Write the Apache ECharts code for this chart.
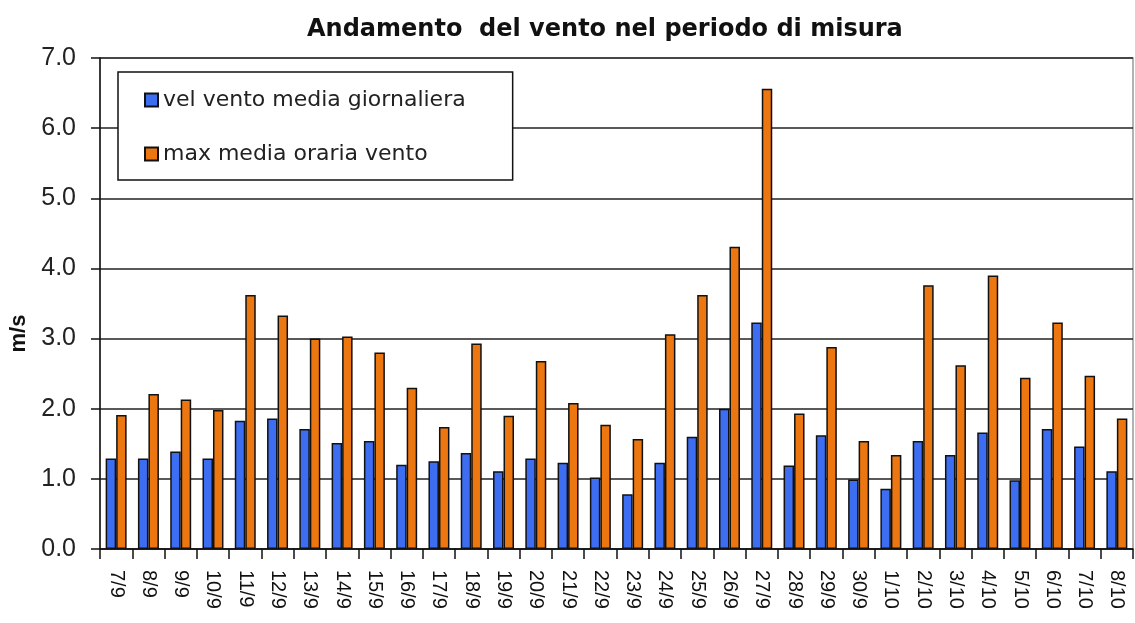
<!DOCTYPE html>
<html>
<head>
<meta charset="utf-8">
<script src="https://cdn.jsdelivr.net/npm/echarts@6/dist/echarts.min.js"></script>
<style>
  html, body { margin: 0; padding: 0; background: #fff; }
  #chart { width: 1135px; height: 623px; }
</style>
</head>
<body>
<div id="chart"></div>
<script>
// dati
const giorni = ['7/9', '8/9', '9/9', '10/9', '11/9', '12/9', '13/9', '14/9', '15/9', '16/9',
  '17/9', '18/9', '19/9', '20/9', '21/9', '22/9', '23/9', '24/9', '25/9', '26/9', '27/9',
  '28/9', '29/9', '30/9', '1/10', '2/10', '3/10', '4/10', '5/10', '6/10', '7/10', '8/10']

const velMedia = [1.29, 1.29, 1.39, 1.29, 1.83, 1.86, 1.71, 1.51, 1.54, 1.20,
  1.25, 1.37, 1.11, 1.29, 1.23, 1.02, 0.78, 1.23, 1.60, 2.00, 3.23,
  1.19, 1.62, 0.99, 0.86, 1.54, 1.34, 1.66, 0.98, 1.71, 1.46, 1.11]

const maxOraria = [1.91, 2.21, 2.13, 1.98, 3.62, 3.33, 3.00, 3.03, 2.80, 2.30,
  1.74, 2.93, 1.90, 2.68, 2.08, 1.77, 1.57, 3.06, 3.62, 4.31, 6.56,
  1.93, 2.88, 1.54, 1.34, 3.76, 2.62, 3.90, 2.44, 3.23, 2.47, 1.86]

const yTicks = [0, 1, 2, 3, 4, 5, 6, 7]

const chart = echarts.init(document.getElementById('chart'))

const option = {
  backgroundColor: '#fff',
  animation: false,
  title: {
    text: 'Andamento  del vento nel periodo di misura',
    left: 302,
    top: 13,
    textStyle: {
      fontFamily: 'DejaVu Sans',
      fontWeight: 'bold',
      fontSize: 24,
      color: '#111'
    }
  },
  legend: {
    orient: 'vertical',
    left: 118,
    top: 72,
    padding: [17, 47, 15, 26],
    itemGap: 32,
    itemWidth: 13,
    itemHeight: 13,
    icon: 'rect',
    backgroundColor: '#fff',
    borderColor: '#111',
    borderWidth: 1.5,
    borderRadius: 0,
    textStyle: {
      fontFamily: 'DejaVu Sans',
      fontSize: 22,
      color: '#222'
    },
    data: ['vel vento media giornaliera', 'max media oraria vento']
  },
  grid: {
    left: 94,
    right: 2,
    top: 58,
    bottom: 74,
    show: true,
    borderColor: '#999',
    borderWidth: 1.5
  },
  xAxis: {
    type: 'category',
    data: giorni,
    axisLine: { lineStyle: { color: '#111', width: 1.5 } },
    axisTick: { show: true, length: 10, lineStyle: { color: '#111', width: 1.5 } },
    axisLabel: {
      rotate: -90,
      margin: 21,
      interval: 0,
      fontFamily: 'Liberation Sans',
      fontSize: 20,
      color: '#111'
    }
  },
  yAxis: {
    type: 'value',
    min: yTicks[0],
    max: yTicks[yTicks.length - 1],
    interval: 1,
    name: 'm/s',
    nameLocation: 'middle',
    nameRotate: 90,
    nameGap: 70,
    nameTextStyle: {
      fontFamily: 'Liberation Sans',
      fontWeight: 'bold',
      fontSize: 22,
      color: '#111',
      padding: [0, 60, 0, 0]
    },
    axisLine: { show: true, lineStyle: { color: '#111', width: 1.5 } },
    axisTick: { show: true, inside: false, length: 9, lineStyle: { color: '#111', width: 1.5 } },
    axisLabel: {
      margin: 24,
      formatter: v => v.toFixed(1),
      fontFamily: 'Liberation Sans',
      fontSize: 25,
      color: '#222'
    },
    splitLine: { lineStyle: { color: '#222', width: 1.5 } }
  },
  series: [
    {
      name: 'vel vento media giornaliera',
      type: 'bar',
      data: velMedia,
      barGap: '0%',
      barCategoryGap: '35%',
      itemStyle: { color: '#3d6ef2', borderColor: '#111', borderWidth: 1.5 }
    },
    {
      name: 'max media oraria vento',
      type: 'bar',
      data: maxOraria,
      barGap: '0%',
      barCategoryGap: '35%',
      itemStyle: { color: '#ec760f', borderColor: '#111', borderWidth: 1.5 }
    }
  ]
}

chart.setOption(option)
</script>
</body>
</html>
